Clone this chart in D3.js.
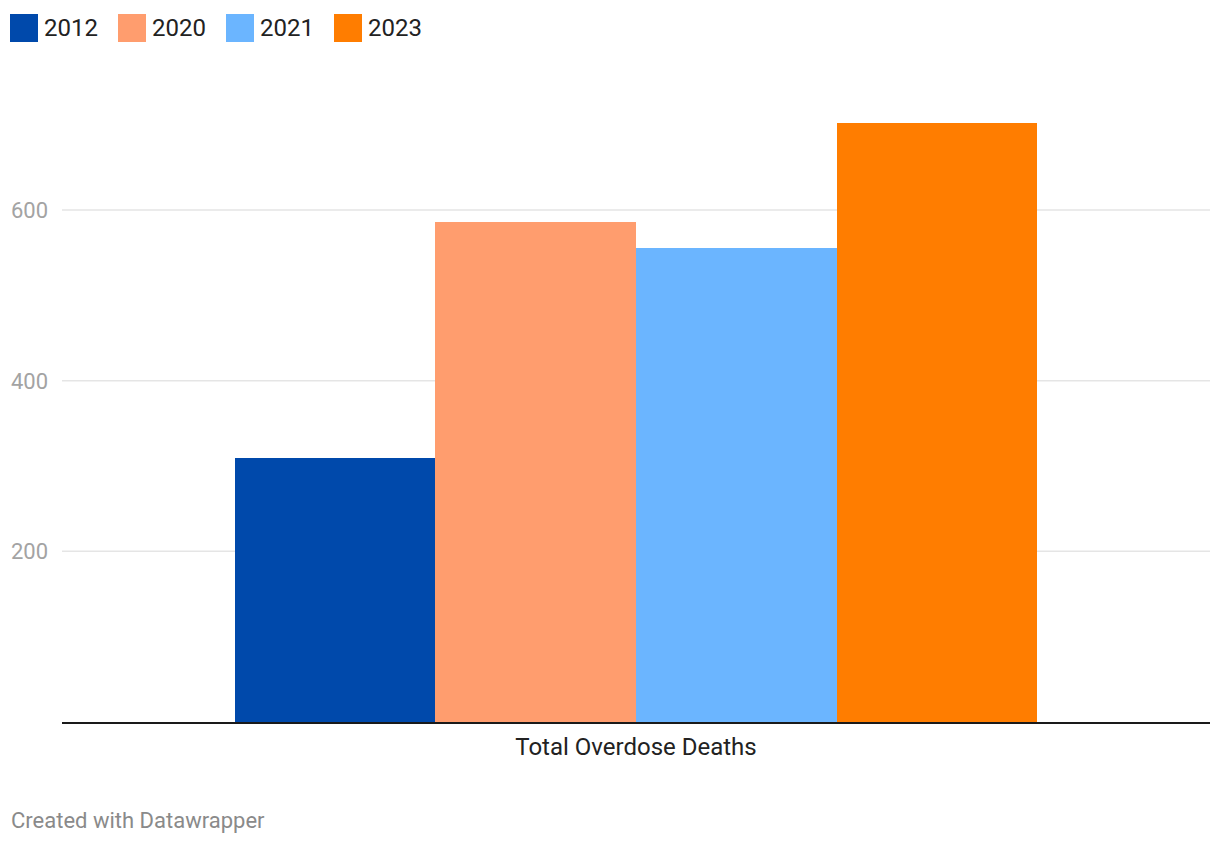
<!DOCTYPE html>
<html>
<head>
<meta charset="utf-8">
<script src="https://cdn.jsdelivr.net/npm/d3@7"></script>
<style>
  body { margin: 0; background: #fff; font-family: Roboto, "Noto Sans", sans-serif; }
</style>
</head>
<body>
<div id="chart"></div>
<script>
const categories = ["Total Overdose Deaths"];
const years = ["2012", "2020", "2021", "2023"];
const values = [309, 586, 555, 702];
const colors = ["#0049ab", "#ff9d6e", "#6bb5ff", "#ff7d00"];
const yTicks = [200, 400, 600];

const width = 1220, height = 844;
const margin = { top: 100, right: 10, bottom: 122, left: 62 };

const svg = d3.select("#chart").append("svg")
    .attr("width", width)
    .attr("height", height);

const x0 = d3.scaleBand()
    .domain(categories)
    .range([margin.left, width - margin.right])
    .paddingInner(0)
    .paddingOuter(0.215);

const x1 = d3.scaleBand()
    .domain(years)
    .range([0, x0.bandwidth()])
    .padding(0);

const y = d3.scaleLinear()
    .domain([0, 600])
    .range([height - margin.bottom, 210]);

const color = d3.scaleOrdinal().domain(years).range(colors);

// gridlines
svg.append("g")
    .selectAll("line")
    .data(yTicks)
    .enter()
    .append("line")
    .attr("x1", margin.left)
    .attr("x2", width - margin.right)
    .attr("y1", d => y(d))
    .attr("y2", d => y(d))
    .attr("stroke", "#e5e5e5")
    .attr("stroke-width", 1.5);

// y tick labels
svg.append("g")
    .selectAll("text")
    .data(yTicks)
    .enter()
    .append("text")
    .attr("x", 11)
    .attr("y", d => y(d))
    .attr("dy", "0.36em")
    .attr("fill", "#a3a3a3")
    .style("font-size", "22px")
    .text(d => d);

// bars
const data = years.map((yr, i) => ({ year: yr, value: values[i], category: categories[0] }));

svg.append("g")
    .attr("shape-rendering", "crispEdges")
    .selectAll("rect")
    .data(data)
    .enter()
    .append("rect")
    .attr("x", d => Math.round(x0(d.category) + x1(d.year)))
    .attr("y", d => y(d.value))
    .attr("width", d => Math.round(x0(d.category) + x1(d.year) + x1.bandwidth()) - Math.round(x0(d.category) + x1(d.year)))
    .attr("height", d => y(0) - y(d.value))
    .attr("fill", d => color(d.year));

// baseline
svg.append("line")
    .attr("x1", margin.left)
    .attr("x2", width - margin.right)
    .attr("y1", y(0) + 1)
    .attr("y2", y(0) + 1)
    .attr("stroke", "#1a1a1a")
    .attr("stroke-width", 2);

// category label
svg.append("text")
    .attr("x", x0(categories[0]) + x0.bandwidth() / 2)
    .attr("y", 755)
    .attr("text-anchor", "middle")
    .attr("fill", "#222")
    .style("font-size", "24px")
    .text(categories[0]);

// legend
const legendX = [10, 118, 226, 334];
const legend = svg.append("g")
    .selectAll("g")
    .data(years)
    .enter()
    .append("g")
    .attr("transform", (d, i) => `translate(${legendX[i]}, 14)`);

legend.append("rect")
    .attr("width", 28)
    .attr("height", 28)
    .attr("fill", d => color(d));

legend.append("text")
    .attr("x", 34)
    .attr("y", 22)
    .attr("fill", "#222")
    .style("font-size", "24px")
    .text(d => d);

// footer
svg.append("text")
    .attr("x", 11)
    .attr("y", 828)
    .attr("fill", "#8a8a8a")
    .style("font-size", "22px")
    .text("Created with Datawrapper");
</script>
</body>
</html>
